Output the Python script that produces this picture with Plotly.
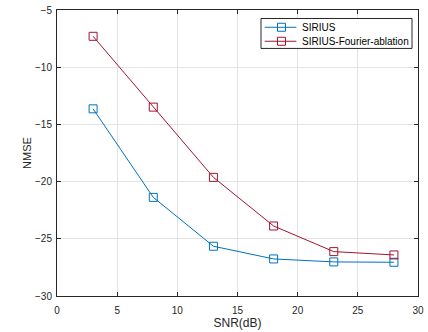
import plotly.graph_objects as go

snr = [3, 8, 13, 18, 23, 28]
sirius = [-13.64, -21.38, -25.65, -26.76, -27.02, -27.05]
sirius_fourier = [-7.3, -13.49, -19.63, -23.88, -26.12, -26.41]
series_names = ["SIRIUS", "SIRIUS-Fourier-ablation"]
series_colors = ["#0072BD", "#A2142F"]
x_ticks = [0, 5, 10, 15, 20, 25, 30]
y_ticks = [-30, -25, -20, -15, -10, -5]

FONT = "Liberation Sans, Arial"
AX = "#262626"

fig = go.Figure()
for name, ys, col in zip(series_names, [sirius, sirius_fourier], series_colors):
    fig.add_trace(go.Scatter(
        x=snr, y=ys, name=name, mode="lines+markers", showlegend=False,
        line=dict(color=col, width=1),
        marker=dict(symbol="square-open", size=8, color=col, line=dict(width=1, color=col)),
    ))

# ---- hand-made MATLAB-style legend on an overlay axis in pixel units of the plot area ----
PW, PH = 361, 286.5
bx0, bx1, by0, by1 = 204, 355, 248, 278
fig.add_trace(go.Scatter(
    x=[bx0, bx1, bx1, bx0, bx0], y=[by0, by0, by1, by1, by0],
    xaxis="x2", yaxis="y2", mode="lines", fill="toself", fillcolor="white",
    line=dict(color=AX, width=1), showlegend=False, hoverinfo="skip"))
row_y = [269.2, 255.2]
for name, col, ry in zip(series_names, series_colors, row_y):
    fig.add_trace(go.Scatter(
        x=[207.7, 239.3], y=[ry, ry], xaxis="x2", yaxis="y2", mode="lines",
        line=dict(color=col, width=1), showlegend=False, hoverinfo="skip"))
    fig.add_trace(go.Scatter(
        x=[224.5], y=[ry], xaxis="x2", yaxis="y2", mode="markers",
        marker=dict(symbol="square-open", size=8, color=col, line=dict(width=1, color=col)),
        showlegend=False, hoverinfo="skip"))
    fig.add_annotation(x=242.5, y=ry, xref="x2", yref="y2", text=name, showarrow=False,
                       xanchor="left", yanchor="middle",
                       font=dict(family=FONT, size=10, color="#000000"))

axis_common = dict(
    showline=True, linecolor=AX, linewidth=1, mirror="ticks",
    ticks="inside", ticklen=4, tickcolor=AX, automargin=False,
    showgrid=True, gridcolor="#e3e3e3", gridwidth=1, zeroline=False,
    tickfont=dict(family=FONT, size=10, color=AX),
)
fig.update_xaxes(range=[0, 30], tickvals=x_ticks, ticklabelstandoff=5,
                 title=dict(text="SNR(dB)", standoff=2,
                            font=dict(family=FONT, size=12, color=AX)),
                 **axis_common)
fig.update_yaxes(range=[-30, -5], tickvals=y_ticks, ticklabelstandoff=2,
                 title=dict(text="NMSE", standoff=1,
                            font=dict(family=FONT, size=11, color=AX)),
                 **axis_common)
fig.update_layout(
    xaxis2=dict(overlaying="x", range=[0, PW], visible=False, fixedrange=True),
    yaxis2=dict(overlaying="y", range=[0, PH], visible=False, fixedrange=True),
    width=428, height=332,
    margin=dict(l=57, r=10, t=10, b=35.5),
    plot_bgcolor="white", paper_bgcolor="white",
    showlegend=False,
)
fig.write_html("out.html")
